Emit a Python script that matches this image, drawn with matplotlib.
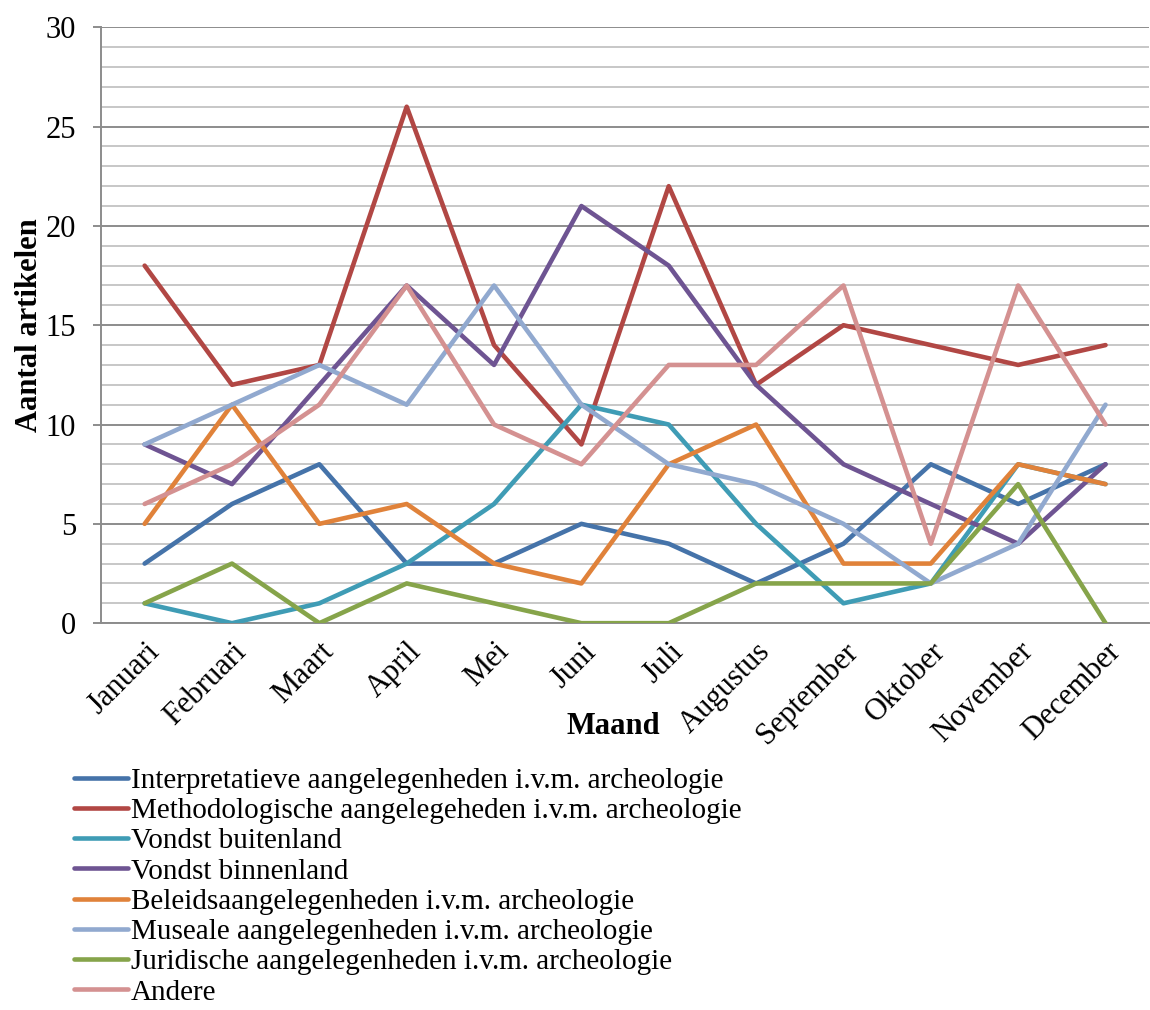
import matplotlib
matplotlib.use("Agg")
import matplotlib.pyplot as plt
from matplotlib.ticker import MultipleLocator

plt.rcParams['font.family'] = ['Liberation Serif', 'DejaVu Serif']

maanden = ['Januari', 'Februari', 'Maart', 'April', 'Mei', 'Juni', 'Juli',
           'Augustus', 'September', 'Oktober', 'November', 'December']

interpretatief = [3, 6, 8, 3, 3, 5, 4, 2, 4, 8, 6, 8]
methodologisch = [18, 12, 13, 26, 14, 9, 22, 12, 15, 14, 13, 14]
buitenland = [1, 0, 1, 3, 6, 11, 10, 5, 1, 2, 8, 7]
binnenland = [9, 7, 12, 17, 13, 21, 18, 12, 8, 6, 4, 8]
beleid = [5, 11, 5, 6, 3, 2, 8, 10, 3, 3, 8, 7]
museaal = [9, 11, 13, 11, 17, 11, 8, 7, 5, 2, 4, 11]
juridisch = [1, 3, 0, 2, 1, 0, 0, 2, 2, 2, 7, 0]
andere = [6, 8, 11, 17, 10, 8, 13, 13, 17, 4, 17, 10]

reeksen = [
    ("Interpretatieve aangelegenheden i.v.m. archeologie", interpretatief, '#4573a9'),
    ("Methodologische aangelegeheden i.v.m. archeologie", methodologisch, '#b14744'),
    ("Vondst buitenland", buitenland, '#3f9cb5'),
    ("Vondst binnenland", binnenland, '#6e5492'),
    ("Beleidsaangelegenheden i.v.m. archeologie", beleid, '#e0823a'),
    ("Museale aangelegenheden i.v.m. archeologie", museaal, '#91a9cf'),
    ("Juridische aangelegenheden i.v.m. archeologie", juridisch, '#86a44a'),
    ("Andere", andere, '#d49191'),
]

fig = plt.figure(figsize=(11.5, 10.1), dpi=100)
ax = fig.add_axes([0.0878, 0.383, 0.9115, 0.59])

x = range(len(maanden))
for naam, waarden, kleur in reeksen:
    ax.plot(x, waarden, color=kleur, lw=3.3, label=naam, solid_capstyle='round', zorder=3)

ax.set_xlim(-0.5, len(maanden) - 0.5)
ax.set_ylim(0, 30)
ax.yaxis.set_major_locator(MultipleLocator(5))
ax.yaxis.set_minor_locator(MultipleLocator(1))
ax.grid(which='minor', axis='y', color='#bdbdbd', lw=1.2, zorder=0)
ax.grid(which='major', axis='y', color='#8c8c8c', lw=1.4, zorder=1)
ax.set_axisbelow(True)

for s in ['top', 'right']:
    ax.spines[s].set_visible(False)
ax.spines['left'].set_color('#8c8c8c')
ax.spines['bottom'].set_color('#8c8c8c')
ax.spines['left'].set_linewidth(1.4)
ax.spines['bottom'].set_linewidth(1.4)

ax.tick_params(axis='y', which='major', length=6, width=1.4, color='#8c8c8c', pad=12, labelsize=22)
ax.tick_params(axis='y', which='minor', length=0)
ax.tick_params(axis='x', length=0, pad=10, labelsize=22)
ax.set_xticks(list(x))
ax.set_xticklabels(maanden, rotation=45, ha='right', rotation_mode='anchor')

fig.text(613 / 1150, 1 - 727 / 1010, "Maand", fontsize=22, fontweight='bold', ha='center', va='center')
fig.text(30 / 1150, 1 - 325 / 1010, "Aantal artikelen", fontsize=22, fontweight='bold',
         rotation=90, ha='center', va='center')

fig.legend(loc='upper left', bbox_to_anchor=(0.054, 0.2515), frameon=False, fontsize=21,
           handlelength=1.85, handletextpad=0.1, labelspacing=0.13, borderaxespad=0)

fig.savefig("out.png", dpi=100)
